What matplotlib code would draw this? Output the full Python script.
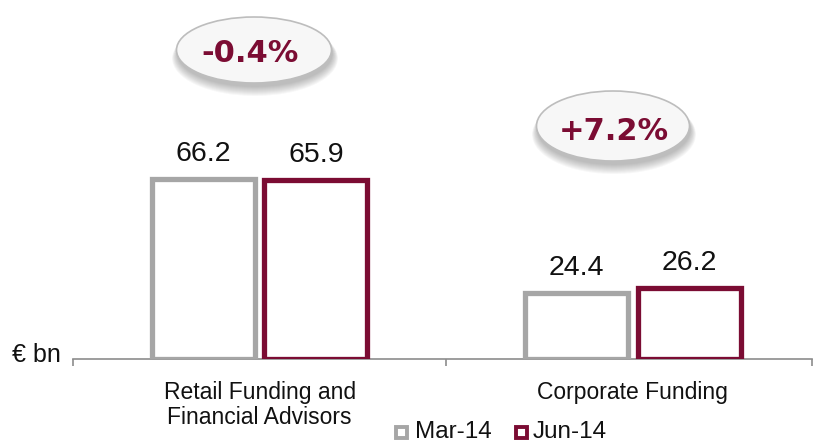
import matplotlib
matplotlib.use("Agg")
import matplotlib.pyplot as plt
from matplotlib.patches import Ellipse, Rectangle
import numpy as np

categories = ["Retail Funding and\nFinancial Advisors", "Corporate Funding"]
series_names = ["Mar-14", "Jun-14"]
mar14 = [66.2, 24.4]
jun14 = [65.9, 26.2]
changes = ["-0.4%", "+7.2%"]

plt.rcParams['font.family'] = ['Liberation Sans', 'DejaVu Sans']

W, H = 814, 442
AXY = 359
fig = plt.figure(figsize=(W / 100, H / 100), dpi=100)
ax = fig.add_axes([73 / W, 1 - AXY / H, (812 - 73) / W, AXY / H])

gray = "#a6a6a6"
maroon = "#7b0c33"
x = np.arange(len(categories))
bw = 0.276
off = 0.151
for vals, dx, col in [(mar14, -off, gray), (jun14, off, maroon)]:
    ax.bar(x + dx, vals, width=bw, facecolor="white", edgecolor=col, linewidth=3.8, zorder=3)
    for xi, v in zip(x + dx, vals):
        ax.text(xi, v + 6.6, f"{v:.1f}", ha="center", va="baseline", fontsize=20.5, color="#111111")

ax.set_xlim(-0.5, 1.48)
ax.set_ylim(0, AXY / 2.72)
for s in ["top", "right", "left"]:
    ax.spines[s].set_visible(False)
ax.spines["bottom"].set_color("#8c8c8c")
ax.spines["bottom"].set_linewidth(1.2)
ax.set_yticks([])
ax.set_xticks([-0.5, 0.5, 1.48])
ax.set_xticklabels([])
ax.tick_params(axis="x", length=5, color="#8c8c8c", width=1.2, direction="out")
for xi, lab in zip(x, categories):
    xd = ax.transData.transform((xi, 0))[0]
    fig.text(xd / W, 1 - 381 / H, lab, ha="center", va="top", fontsize=16.5, color="#111111",
             linespacing=1.12, multialignment="center")

fig.text(12 / W, 1 - 362 / H, "€ bn", fontsize=18, ha="left", va="baseline", color="#111111")

# bubbles
bubbles = [(254, 50, 155, 66), (613, 126, 153, 70)]
text_pos = [(250, 54), (614, 132)]
for (cx, cy, bwid, bht), (tx, ty), txt in zip(bubbles, text_pos, changes):
    fx, fy = cx / W, 1 - cy / H
    for i in range(10):
        fig.patches.append(Ellipse((fx + 1 / W, fy - (4 + i * 0.5) / H), (bwid + i * 1.2) / W,
                                   (bht + i * 1.0) / H, transform=fig.transFigure,
                                   facecolor="#444444", edgecolor="none", alpha=0.04, zorder=1))
    fig.patches.append(Ellipse((fx, fy), bwid / W, bht / H, transform=fig.transFigure,
                               facecolor="#f7f7f7", edgecolor="#bdbdbd", linewidth=1.2, zorder=2))
    fig.text(tx / W, 1 - ty / H, txt, ha="center", va="center", fontsize=22, fontweight="bold",
             color=maroon, family=["DejaVu Sans"], zorder=3)

# legend
lcy = 1 - 432 / H
for lx, tx, col, name in [(394, 415, gray, series_names[0]), (514, 533, maroon, series_names[1])]:
    fig.patches.append(Rectangle(((lx + 1.5) / W, lcy - 5.5 / H), 11 / W, 11 / H, transform=fig.transFigure,
                                 facecolor="white", edgecolor=col, linewidth=2.8))
    fig.text(tx / W, 1 - 438.5 / H, name, ha="left", va="baseline", fontsize=17.5, color="#111111")

fig.savefig("out.png", dpi=100)
